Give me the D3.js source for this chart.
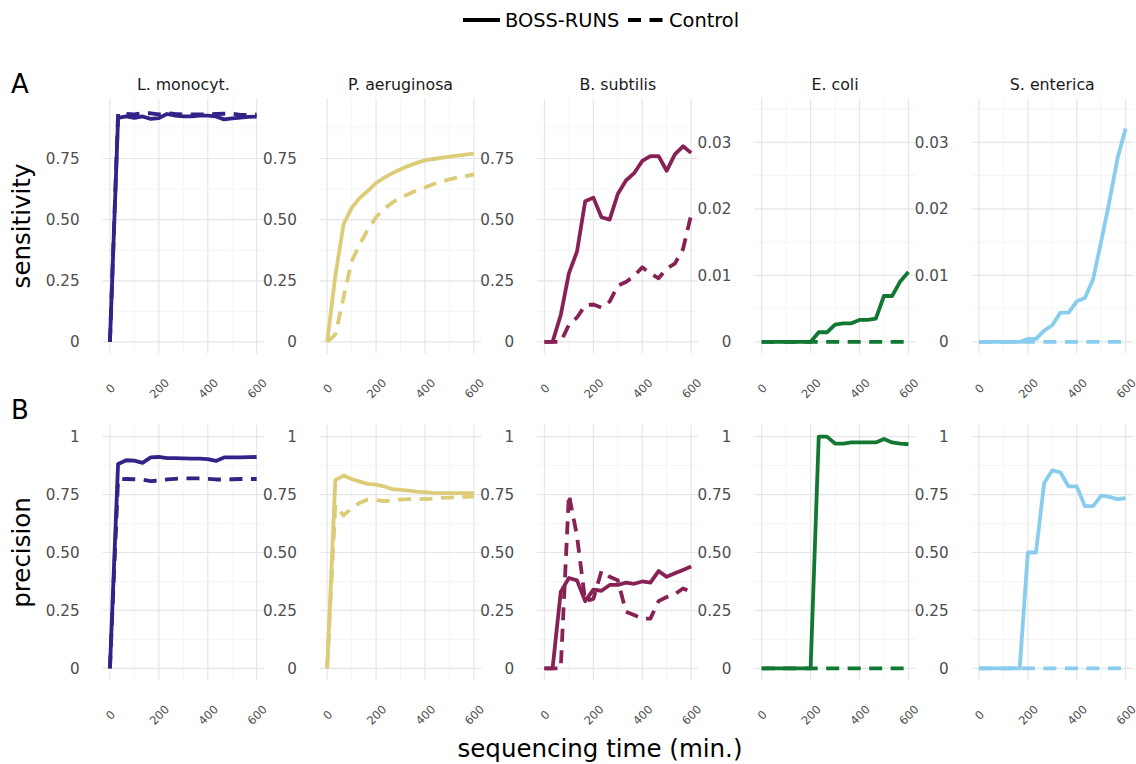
<!DOCTYPE html>
<html>
<head>
<meta charset="utf-8">
<script src="https://cdn.jsdelivr.net/npm/d3@7"></script>
<style>
  body { margin: 0; background: #fff; }
  svg { font-family: "DejaVu Sans", sans-serif; }
</style>
</head>
<body>
<svg id="chart" width="1136" height="764"></svg>
<script>
// species / colours
var species = ["L. monocyt.", "P. aeruginosa", "B. subtilis", "E. coli", "S. enterica"];
var colours = ["#332288", "#DDCC77", "#882255", "#117733", "#88CCEE"];

// sampling times (min.)
var times = [0, 33.3, 66.7, 100, 133.3, 166.7, 200, 233.3, 266.7, 300, 333.3, 366.7, 400, 433.3, 466.7, 500, 533.3, 566.7, 600];

var xTicks = [0, 200, 400, 600];
var xMinor = [100, 300, 500];
var sensTicksHigh = [0, 0.25, 0.5, 0.75];
var sensMinorHigh = [0.125, 0.375, 0.625, 0.875];
var sensTicksLow = [0, 0.01, 0.02, 0.03];
var sensMinorLow = [0.005, 0.015, 0.025, 0.035];
var precTicks = [0, 0.25, 0.5, 0.75, 1];
var precMinor = [0.125, 0.375, 0.625, 0.875];

// sensitivity
var lmonoSensBoss = [0, 0.916, 0.922, 0.916, 0.922, 0.912, 0.915, 0.932, 0.925, 0.922, 0.922, 0.925, 0.925, 0.922, 0.91, 0.914, 0.917, 0.92, 0.921];
var lmonoSensCtrl = [0, 0.932, 0.932, 0.93, 0.935, 0.935, 0.93, 0.935, 0.932, 0.93, 0.93, 0.93, 0.93, 0.932, 0.933, 0.933, 0.928, 0.928, 0.93];
var paerSensBoss = [0, 0.27, 0.48, 0.548, 0.589, 0.618, 0.65, 0.672, 0.69, 0.706, 0.72, 0.732, 0.743, 0.748, 0.753, 0.758, 0.762, 0.766, 0.77];
var paerSensCtrl = [0, 0.03, 0.18, 0.33, 0.40, 0.46, 0.51, 0.545, 0.57, 0.59, 0.605, 0.62, 0.632, 0.645, 0.655, 0.665, 0.672, 0.678, 0.685];
var bsubSensBoss = [0, 0, 0.11, 0.28, 0.37, 0.575, 0.59, 0.51, 0.50, 0.605, 0.66, 0.69, 0.74, 0.76, 0.76, 0.70, 0.767, 0.80, 0.773];
var bsubSensCtrl = [0, 0, 0, 0.07, 0.10, 0.15, 0.153, 0.14, 0.165, 0.23, 0.245, 0.27, 0.305, 0.28, 0.26, 0.30, 0.32, 0.38, 0.52];
var ecoliSensBoss = [0, 0, 0, 0, 0, 0, 0, 0.00145, 0.00145, 0.0026, 0.0028, 0.0028, 0.0033, 0.0033, 0.0035, 0.0069, 0.0069, 0.0091, 0.0105];
var ecoliSensCtrl = [0, 0, 0, 0, 0, 0, 0, 0, 0, 0, 0, 0, 0, 0, 0, 0, 0, 0, 0];
var sentSensBoss = [0, 0, 0, 0, 0, 0, 0.00045, 0.00045, 0.0017, 0.0025, 0.0044, 0.0044, 0.0061, 0.0066, 0.0094, 0.0151, 0.0211, 0.0276, 0.0321];
var sentSensCtrl = [0, 0, 0, 0, 0, 0, 0, 0, 0, 0, 0, 0, 0, 0, 0, 0, 0, 0, 0];

// precision
var lmonoPrecBoss = [0, 0.882, 0.898, 0.896, 0.887, 0.91, 0.912, 0.907, 0.907, 0.906, 0.905, 0.905, 0.903, 0.895, 0.91, 0.91, 0.91, 0.911, 0.912];
var lmonoPrecCtrl = [0, 0.816, 0.817, 0.816, 0.814, 0.808, 0.81, 0.815, 0.818, 0.82, 0.82, 0.82, 0.818, 0.815, 0.815, 0.816, 0.817, 0.817, 0.817];
var paerPrecBoss = [0, 0.812, 0.832, 0.817, 0.806, 0.796, 0.793, 0.785, 0.773, 0.77, 0.767, 0.763, 0.76, 0.757, 0.756, 0.756, 0.756, 0.756, 0.756];
var paerPrecCtrl = [0, 0.705, 0.66, 0.69, 0.715, 0.728, 0.726, 0.722, 0.724, 0.728, 0.73, 0.732, 0.73, 0.733, 0.736, 0.737, 0.738, 0.74, 0.742];
var bsubPrecBoss = [0, 0, 0.33, 0.39, 0.38, 0.29, 0.34, 0.335, 0.36, 0.36, 0.37, 0.365, 0.375, 0.37, 0.42, 0.395, 0.41, 0.425, 0.44];
var bsubPrecCtrl = [0, 0, 0, 0.75, 0.57, 0.29, 0.30, 0.42, 0.395, 0.38, 0.245, 0.23, 0.215, 0.215, 0.29, 0.308, 0.32, 0.345, 0.33];
var ecoliPrecBoss = [0, 0, 0, 0, 0, 0, 0, 1, 1, 0.97, 0.97, 0.975, 0.975, 0.975, 0.975, 0.99, 0.975, 0.97, 0.967];
var ecoliPrecCtrl = [0, 0, 0, 0, 0, 0, 0, 0, 0, 0, 0, 0, 0, 0, 0, 0, 0, 0, 0];
var sentPrecBoss = [0, 0, 0, 0, 0, 0, 0.5, 0.5, 0.8, 0.855, 0.845, 0.785, 0.785, 0.7, 0.7, 0.745, 0.74, 0.73, 0.735];
var sentPrecCtrl = [0, 0, 0, 0, 0, 0, 0, 0, 0, 0, 0, 0, 0, 0, 0, 0, 0, 0, 0];

var sensBoss = [lmonoSensBoss, paerSensBoss, bsubSensBoss, ecoliSensBoss, sentSensBoss];
var sensCtrl = [lmonoSensCtrl, paerSensCtrl, bsubSensCtrl, ecoliSensCtrl, sentSensCtrl];
var precBoss = [lmonoPrecBoss, paerPrecBoss, bsubPrecBoss, ecoliPrecBoss, sentPrecBoss];
var precCtrl = [lmonoPrecCtrl, paerPrecCtrl, bsubPrecCtrl, ecoliPrecCtrl, sentPrecCtrl];

// layout
var colLeft = 102.6, colStep = 217.25, panelW = 161.4, panelH = 255;
var lineW = 3.8;
var rows = [
    {top: 98.5, label: "A", title: "sensitivity", boss: sensBoss, ctrl: sensCtrl},
    {top: 425, label: "B", title: "precision", boss: precBoss, ctrl: precCtrl}
];

var svg = d3.select("#chart");

function fmt(d) {
    if (d === 0) return "0";
    if (d === 1) return "1";
    return d3.format(".2f")(d);
}

function panelScaleInfo(r, c) {
    if (r === 0 && c >= 3) return {domain: [0, 0.03485], ticks: sensTicksLow, minor: sensMinorLow};
    if (r === 0) return {domain: [0, 0.948], ticks: sensTicksHigh, minor: sensMinorHigh};
    return {domain: [0, 1], ticks: precTicks, minor: precMinor};
}

var line = d3.line().curve(d3.curveLinear);

rows.forEach(function(row, r) {
    species.forEach(function(name, c) {
        var info = panelScaleInfo(r, c);
        var span = info.domain[1] - info.domain[0];
        var x = d3.scaleLinear().domain([-30, 630]).range([0, panelW]);
        var y = d3.scaleLinear()
            .domain([info.domain[0] - span * 0.05, info.domain[1] + span * 0.05])
            .range([panelH, 0]);

        var g = svg.append("g")
            .attr("transform", "translate(" + (colLeft + c * colStep) + "," + row.top + ")");

        // minor grid
        g.selectAll(".vminor").data(xMinor).enter().append("line")
            .attr("x1", x).attr("x2", x).attr("y1", 0).attr("y2", panelH)
            .attr("stroke", "#f0f0f0").attr("stroke-width", 0.7);
        g.selectAll(".hminor").data(info.minor.filter(function(v) { return y(v) >= 0; })).enter().append("line")
            .attr("y1", y).attr("y2", y).attr("x1", 0).attr("x2", panelW)
            .attr("stroke", "#f0f0f0").attr("stroke-width", 0.7);
        // major grid
        g.selectAll(".vmajor").data(xTicks).enter().append("line")
            .attr("x1", x).attr("x2", x).attr("y1", 0).attr("y2", panelH)
            .attr("stroke", "#e6e6e6").attr("stroke-width", 1.2);
        g.selectAll(".hmajor").data(info.ticks).enter().append("line")
            .attr("y1", y).attr("y2", y).attr("x1", 0).attr("x2", panelW)
            .attr("stroke", "#e6e6e6").attr("stroke-width", 1.2);

        // y axis labels
        var yAxis = g.append("g")
            .call(d3.axisLeft(y).tickValues(info.ticks).tickFormat(fmt).tickSize(0).tickPadding(23));
        yAxis.select(".domain").remove();
        yAxis.selectAll("text")
            .attr("fill", "#4d4d4d")
            .style("font-size", "15.2px")
            .style("font-family", "DejaVu Sans, sans-serif");

        // x axis labels, rotated
        var xAxis = g.append("g")
            .attr("transform", "translate(0," + panelH + ")")
            .call(d3.axisBottom(x).tickValues(xTicks).tickFormat(d3.format("d")).tickSize(0));
        xAxis.select(".domain").remove();
        xAxis.selectAll("text")
            .attr("y", 0).attr("dy", "0.35em")
            .attr("text-anchor", "middle")
            .attr("transform", "translate(0,35) rotate(-45)")
            .attr("fill", "#4d4d4d")
            .style("font-size", "11.5px")
            .style("font-family", "DejaVu Sans, sans-serif");

        // strip titles (top row only)
        if (r === 0) {
            svg.append("text")
                .attr("x", colLeft + c * colStep + panelW / 2)
                .attr("y", 89.5)
                .attr("text-anchor", "middle")
                .attr("fill", "#1a1a1a")
                .style("font-size", "15.8px")
                .text(name);
        }

        // lines: BOSS-RUNS first, Control on top
        var pts = function(vals) { return vals.map(function(v, i) { return [x(times[i]), y(v)]; }); };
        g.append("path")
            .attr("d", line(pts(row.boss[c])))
            .attr("fill", "none")
            .attr("stroke", colours[c])
            .attr("stroke-width", lineW)
            .attr("stroke-linejoin", "round");
        g.append("path")
            .attr("d", line(pts(row.ctrl[c])))
            .attr("fill", "none")
            .attr("stroke", colours[c])
            .attr("stroke-width", lineW)
            .attr("stroke-linejoin", "round")
            .attr("stroke-dasharray", "13,8.5");
    });

    // row tag
    svg.append("text")
        .attr("x", 11)
        .attr("y", row.top - 6)
        .attr("fill", "#000")
        .style("font-size", "26px")
        .text(row.label);

    // y title
    svg.append("text")
        .attr("transform", "translate(30," + (row.top + panelH / 2) + ") rotate(-90)")
        .attr("text-anchor", "middle")
        .attr("fill", "#000")
        .style("font-size", "24.5px")
        .text(row.title);
});

// x title
svg.append("text")
    .attr("x", 600)
    .attr("y", 757)
    .attr("text-anchor", "middle")
    .attr("fill", "#000")
    .style("font-size", "24.5px")
    .text("sequencing time (min.)");

// legend
var legend = svg.append("g").attr("transform", "translate(0,20)");
legend.append("line").attr("x1", 463).attr("x2", 500).attr("y1", 0).attr("y2", 0)
    .attr("stroke", "#000").attr("stroke-width", lineW);
legend.append("text").attr("x", 505).attr("y", 0).attr("dy", "0.35em")
    .style("font-size", "19.4px").text("BOSS-RUNS");
legend.append("line").attr("x1", 628).attr("x2", 665).attr("y1", 0).attr("y2", 0)
    .attr("stroke", "#000").attr("stroke-width", lineW).attr("stroke-dasharray", "13,8.5");
legend.append("text").attr("x", 669).attr("y", 0).attr("dy", "0.35em")
    .style("font-size", "19.4px").text("Control");
</script>
</body>
</html>
